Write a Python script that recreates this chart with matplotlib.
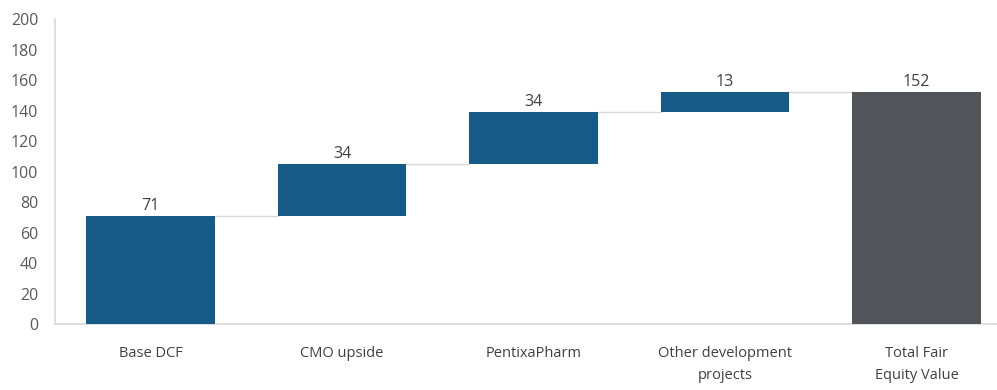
import matplotlib.pyplot as plt

# Waterfall data
categories = ['Base DCF', 'CMO upside', 'PentixaPharm', 'Other development\nprojects', 'Total Fair\nEquity Value']
steps = [71, 34, 34, 13]
total = 152

plt.rcParams['font.family'] = ['Open Sans', 'DejaVu Sans']

bottoms = []
running = 0
for s in steps:
    bottoms.append(running)
    running += s
heights = steps + [total]
bottoms = bottoms + [0]
colors = ['#165a87'] * len(steps) + ['#515559']

fig = plt.figure(figsize=(9.97, 3.9), dpi=100)
ax = fig.add_axes([0.055, 0.169, 0.945, 0.782])

x = list(range(len(categories)))
width = 0.67
ax.bar(x, heights, bottom=bottoms, width=width, color=colors, zorder=3)

# connector lines between bars
tops = [b + h for b, h in zip(bottoms, heights)]
for i in range(len(categories) - 1):
    ax.plot([i + width / 2, i + 1 - width / 2], [tops[i], tops[i]],
            color='#d9d9d9', linewidth=1, zorder=2)

# value labels
for i, (t, h) in enumerate(zip(tops, heights)):
    ax.text(i, t + 1.5, str(h), ha='center', va='bottom', fontsize=11.5, color='#404040')

ax.set_xlim(-0.5, 4.42)
ax.set_ylim(0, 200)
ax.set_yticks(range(0, 201, 20))
ax.set_xticks(x)
ax.set_xticklabels(categories, fontsize=10.5, color='#404040', linespacing=1.6)
ax.tick_params(axis='y', labelsize=11.5, labelcolor='#595959', length=0, pad=12)
ax.tick_params(axis='x', length=0, pad=16)

for side in ['top', 'right']:
    ax.spines[side].set_visible(False)
for side in ['left', 'bottom']:
    ax.spines[side].set_color('#d9d9d9')
    ax.spines[side].set_linewidth(1.2)

fig.savefig('out.png', dpi=100)
